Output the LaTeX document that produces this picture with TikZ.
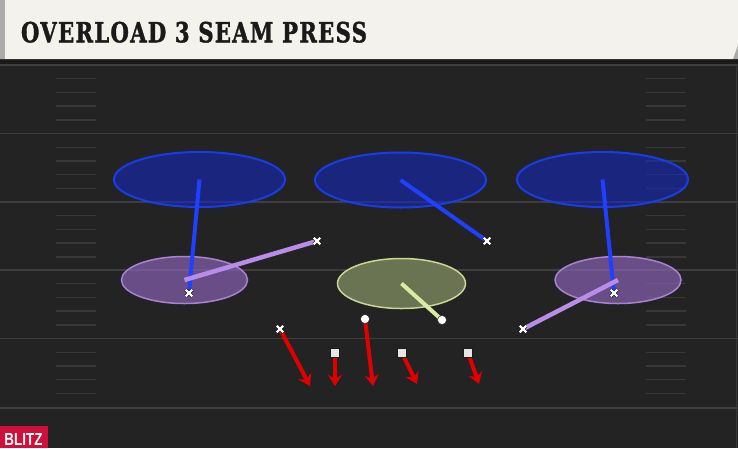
\documentclass[tikz,border=0pt]{standalone}
\usepackage{fontspec}
\usetikzlibrary{shapes.geometric,shapes.misc,arrows.meta}
\newfontfamily\titlefont[BoldFont={DejaVu Serif Bold},
  BoldFeatures={FakeBold=1.6},LetterSpace=6]{DejaVu Serif}
\newfontfamily\tagfont{Liberation Sans}

\definecolor{c232323}{RGB}{35,35,35}
\definecolor{c1a1a1a}{RGB}{26,26,26}
\definecolor{c3e3e3e}{RGB}{62,62,62}
\definecolor{c383838}{RGB}{56,56,56}
\definecolor{cf4f2ec}{RGB}{244,242,236}
\definecolor{cababab}{RGB}{171,171,171}
\definecolor{c1428c8}{RGB}{20,40,200}
\definecolor{c1a3ce6}{RGB}{26,60,230}
\definecolor{c1f40ff}{RGB}{31,64,255}
\definecolor{c9669c8}{RGB}{150,105,200}
\definecolor{ca983d2}{RGB}{169,131,210}
\definecolor{cb88ce8}{RGB}{184,140,232}
\definecolor{c6b7452}{RGB}{107,116,82}
\definecolor{cc9d695}{RGB}{201,214,149}
\definecolor{cd9eca2}{RGB}{217,236,162}
\definecolor{ce00000}{RGB}{224,0,0}
\definecolor{cd0103a}{RGB}{208,16,58}
\definecolor{ce6e6e6}{RGB}{230,230,230}

\pgfdeclarelayer{ground}
\pgfdeclarelayer{lanes}
\pgfsetlayers{ground,lanes,main}

\tikzset{
  zone deep/.style={ellipse, draw=c1a3ce6, fill=c1428c8, fill opacity=0.55,
    line width=2pt, minimum width=171pt, minimum height=55pt},
  zone flat/.style={ellipse, draw=ca983d2, fill=c9669c8, fill opacity=0.6,
    line width=1.5pt, minimum width=126pt, minimum height=47pt},
  zone hook/.style={ellipse, draw=cc9d695, fill=c6b7452, line width=1.5pt,
    minimum width=128pt, minimum height=50pt},
  defender/.style={cross out, draw=white, line width=2.2pt, minimum size=6.5pt,
    preaction={draw=black, line width=3.4pt}},
  lineman/.style={rectangle, fill=ce6e6e6, draw=c1a1a1a, line width=0.5pt,
    minimum size=9pt},
  rover/.style={circle, fill=white, draw=c1a1a1a, line width=0.4pt,
    minimum size=9pt},
  rush/.style={draw=ce00000, line width=4pt, -{Stealth[length=11pt,width=14pt]}}
}

\begin{document}
\begin{tikzpicture}[y=1pt, x=1pt, yscale=-1, inner sep=0pt, outer sep=0pt]
\useasboundingbox (0,0) rectangle (738,448);
\begin{pgfonlayer}{ground}
  % field
  \path[fill=c232323] (0,59) rectangle (738,448);
  \path[fill=c1a1a1a] (0,59) rectangle (738,64);
  \foreach \yl in {65,133.5,202,270,338.5,408}
    \path[draw=c3e3e3e,line width=1.6pt] (0,\yl) -- (738,\yl);
  \foreach \yl in {65,133.5,202,270,338.5}
    \foreach \k in {1,...,4} {
      \path[draw=c383838,line width=1.4pt] (56,\yl+\k*13.7) -- (96,\yl+\k*13.7);
      \path[draw=c383838,line width=1.4pt] (646,\yl+\k*13.7) -- (686,\yl+\k*13.7);
    }
  \path[draw=c383838,line width=1pt] (736.5,64) -- (736.5,448);
  % header
  \path[fill=cf4f2ec] (0,0) -- (738,0) -- (738,45) -- (733,59) -- (0,59) -- cycle;
  \path[fill=cababab] (0,0) rectangle (5,59);
  \path[fill=cababab] (738,45) -- (733,59) -- (738,59) -- cycle;
  \node[anchor=base west,text=c1a1a1a] (title) at (21,42.3)
    {\resizebox{346pt}{20.6pt}{\titlefont\bfseries OVERLOAD 3 SEAM PRESS}};
  \path[fill=cd0103a] (0,426) rectangle (48,448);
  \node[anchor=base west,text=white] (blitz-tag) at (4.5,445.3)
    {\resizebox{38pt}{12pt}{\tagfont\bfseries BLITZ}};
  % zones
  \node[zone deep] (zone-deep-l) at (199.5,179.5) {};
  \node[zone deep] (zone-deep-m) at (400.5,180) {};
  \node[zone deep] (zone-deep-r) at (602.5,179.5) {};
  \node[zone flat] (zone-flat-l) at (184.5,280) {};
  \node[zone flat] (zone-flat-r) at (618,280) {};
  \node[zone hook] (zone-hook) at (401.5,283.5) {};
\end{pgfonlayer}

% players dropping
\node[defender] (drop-1) at (189,293) {};
\node[defender] (drop-2) at (317,241) {};
\node[defender] (drop-3) at (487,241) {};
\node[rover] (drop-4) at (442,320) {};
\node[defender] (drop-5) at (614,293) {};
\node[defender] (drop-6) at (523,329) {};
% players rushing
\node[defender] (rush-1) at (280,329) {};
\node[lineman] (rush-2) at (335,353) {};
\node[rover] (rush-3) at (365,319) {};
\node[lineman] (rush-4) at (402,353) {};
\node[lineman] (rush-5) at (468,353) {};
\coordinate (rush-1-end) at (310,386);
\coordinate (rush-2-end) at (335,386);
\coordinate (rush-3-end) at (373,386);
\coordinate (rush-4-end) at (417,384);
\coordinate (rush-5-end) at (479,384);

\begin{pgfonlayer}{lanes}
  \path[draw=c1f40ff,line width=4pt] (zone-deep-l.center) -- (drop-1.center);
  \path[draw=cb88ce8,line width=4.5pt] (zone-flat-l.center) -- (drop-2.center);
  \path[draw=c1f40ff,line width=4pt] (zone-deep-m.center) -- (drop-3.center);
  \path[draw=cd9eca2,line width=4pt] (zone-hook.center) -- (drop-4.center);
  \path[draw=c1f40ff,line width=4pt] (zone-deep-r.center) -- (drop-5.center);
  \path[draw=cb88ce8,line width=4.5pt] (zone-flat-r.center) -- (drop-6.center);
  \foreach \r in {1,...,5}
    \path[rush] (rush-\r.center) -- (rush-\r-end);
\end{pgfonlayer}

\end{tikzpicture}
\end{document}
